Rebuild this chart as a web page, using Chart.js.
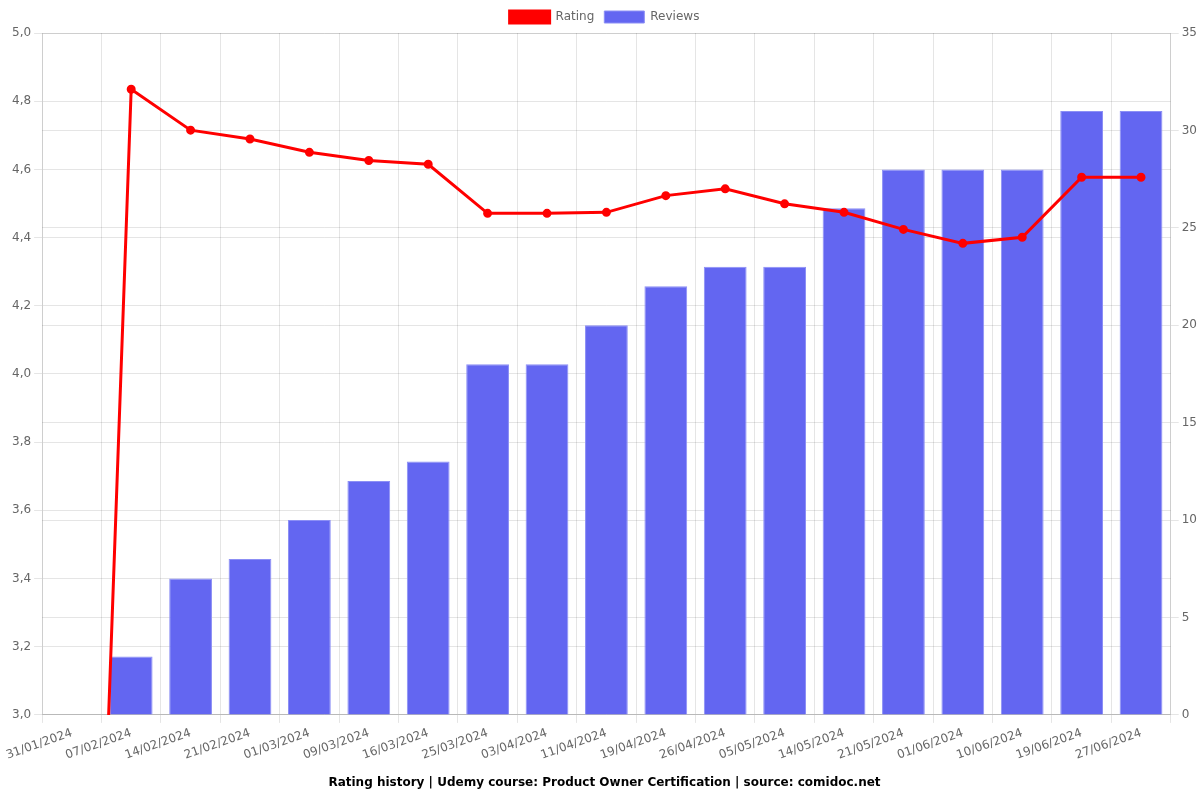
<!DOCTYPE html>
<html>
<head>
<meta charset="utf-8">
<script src="https://cdn.jsdelivr.net/npm/chart.js@4"></script>
<style>
    html, body { margin: 0; padding: 0; background: #fff; }
    #wrap { width: 1200px; height: 800px; }
</style>
</head>
<body>
<div id="wrap"><canvas id="ratingChart"></canvas></div>
<script>
const labels = ['31/01/2024', '07/02/2024', '14/02/2024', '21/02/2024', '01/03/2024', '09/03/2024',
    '16/03/2024', '25/03/2024', '03/04/2024', '11/04/2024', '19/04/2024', '26/04/2024',
    '05/05/2024', '14/05/2024', '21/05/2024', '01/06/2024', '10/06/2024', '19/06/2024', '27/06/2024'];
const ratings = [0, 4.835, 4.715, 4.689, 4.65, 4.626, 4.615, 4.471, 4.471, 4.474, 4.523, 4.543,
    4.499, 4.474, 4.424, 4.383, 4.401, 4.577, 4.577];
const reviews = [0, 3, 7, 8, 10, 12, 13, 18, 18, 20, 22, 23, 23, 26, 28, 28, 28, 31, 31];

(function () {
    const canvas = document.getElementById('ratingChart');
    Chart.defaults.font.family = '"DejaVu Sans", sans-serif';
    Chart.defaults.font.size = 12;
    Chart.defaults.color = '#666';

    new Chart(canvas, {
        type: 'bar',
        data: {
            labels: labels,
            datasets: [{
                type: 'line',
                label: 'Rating',
                data: ratings,
                borderColor: '#ff0000',
                backgroundColor: '#ff0000',
                borderWidth: 3,
                pointRadius: 3,
                yAxisID: 'y',
            }, {
                label: 'Reviews',
                data: reviews,
                backgroundColor: '#6366f1',
                borderColor: '#8c8ff5',
                borderWidth: 1,
                yAxisID: 'y1',
            }],
        },
        options: {
            responsive: true,
            maintainAspectRatio: false,
            animation: false,
            layout: { padding: { left: 9, top: 1 } },
            plugins: {
                legend: { position: 'top' },
                title: {
                    display: true,
                    position: 'bottom',
                    text: 'Rating history | Udemy course: Product Owner Certification | source: comidoc.net',
                    color: '#000',
                    font: { size: 12, weight: 'bold' },
                },
            },
            scales: {
                y: {
                    position: 'left',
                    min: 3,
                    max: 5,
                    ticks: {
                        stepSize: 0.2,
                        callback: (v) => v.toFixed(1).replace('.', ','),
                    },
                },
                y1: {
                    position: 'right',
                    min: 0,
                    max: 35,
                    ticks: { stepSize: 5 },
                },
            },
        },
    });
})();
</script>
</body>
</html>
